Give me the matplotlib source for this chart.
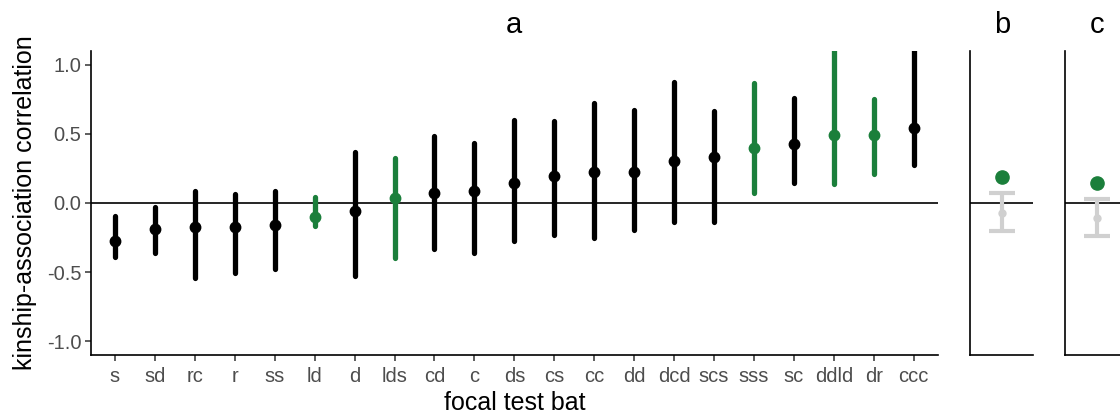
import numpy as np
import matplotlib
matplotlib.use("Agg")
import matplotlib.pyplot as plt

plt.rcParams['font.family'] = ['Liberation Sans', 'DejaVu Sans']
plt.rcParams['axes.unicode_minus'] = False

# panel a: per focal test bat
bats = ["s", "sd", "rc", "r", "ss", "ld", "d", "lds", "cd", "c", "ds",
        "cs", "cc", "dd", "dcd", "scs", "sss", "sc", "ddld", "dr", "ccc"]
corr = [-0.274, -0.192, -0.178, -0.173, -0.163, -0.101, -0.058, 0.036, 0.068,
        0.084, 0.144, 0.195, 0.221, 0.221, 0.303, 0.332, 0.399, 0.423,
        0.488, 0.488, 0.544]
lower = [-0.394, -0.360, -0.545, -0.509, -0.480, -0.168, -0.528, -0.399, -0.332,
         -0.360, -0.276, -0.235, -0.252, -0.197, -0.139, -0.137, 0.072, 0.144,
         0.133, 0.212, 0.272]
upper = [-0.094, -0.033, 0.087, 0.063, 0.087, 0.043, 0.366, 0.325, 0.486,
         0.433, 0.601, 0.591, 0.721, 0.673, 0.872, 0.666, 0.865, 0.755,
         1.150, 0.748, 1.150]
highlight = [False, False, False, False, False, True, False, True, False, False,
             False, False, False, False, False, False, True, False, True, True, False]

# panels b and c: observed vs null
obs_b, null_b, null_b_lo, null_b_hi = 0.185, -0.070, -0.200, 0.072
obs_c, null_c, null_c_lo, null_c_hi = 0.147, -0.113, -0.240, 0.025

GREEN = "#1b7f3b"
GREY = "#d0d0d0"

fig = plt.figure(figsize=(11.2, 4.17), dpi=100)
W, H = 1120, 417

def px_axes(x0, x1, y0, y1):
    return fig.add_axes([x0 / W, 1 - y1 / H, (x1 - x0) / W, (y1 - y0) / H])

def style(ax):
    for s in ["top", "right"]:
        ax.spines[s].set_visible(False)
    for s in ["left", "bottom"]:
        ax.spines[s].set_linewidth(1.2)
        ax.spines[s].set_color("black")
    ax.set_ylim(-1.1, 1.1)
    ax.axhline(0, color="black", lw=1.2, zorder=1)

ax = px_axes(91, 937.7, 50.7, 355)
style(ax)
x = np.arange(1, len(bats) + 1)
for i in range(len(bats)):
    col = GREEN if highlight[i] else "black"
    ax.plot([x[i], x[i]], [lower[i], upper[i]], color=col, lw=3.8,
            solid_capstyle="round", zorder=2)
    ax.plot(x[i], corr[i], "o", color=col, ms=7.5, zorder=3)
ax.set_xlim(0.4, len(bats) + 0.6)
ax.set_xticks(x)
ax.set_xticklabels(bats)
ax.set_yticks([-1.0, -0.5, 0.0, 0.5, 1.0])
ax.set_yticklabels(["-1.0", "-0.5", "0.0", "0.5", "1.0"])
ax.tick_params(axis="both", labelsize=14.5, labelcolor="#4d4d4d", color="#333333",
               length=4, width=1.1, pad=3)
ax.tick_params(axis="x", pad=5)
ax.set_xlabel("focal test bat", fontsize=18, labelpad=3)
ax.set_ylabel("kinship-association correlation", fontsize=18, labelpad=7)
ax.set_title("a", fontsize=21, pad=13)

for x0, title, obs, nm, lo, hi in [(970.3, "b", obs_b, null_b, null_b_lo, null_b_hi),
                                   (1065.3, "c", obs_c, null_c, null_c_lo, null_c_hi)]:
    axp = px_axes(x0, x0 + 63, 50.7, 355)
    style(axp)
    axp.set_xlim(0.4, 1.6)
    axp.errorbar([1], [nm], yerr=[[nm - lo], [hi - nm]], fmt="o", color=GREY,
                 ms=5, lw=3, capsize=9.5, capthick=3, zorder=2)
    axp.plot(1, obs, "o", color=GREEN, ms=9.5, zorder=3)
    axp.set_xticks([])
    axp.set_yticks([])
    axp.set_title(title, fontsize=21, pad=13)

fig.savefig("out.png", dpi=100)
